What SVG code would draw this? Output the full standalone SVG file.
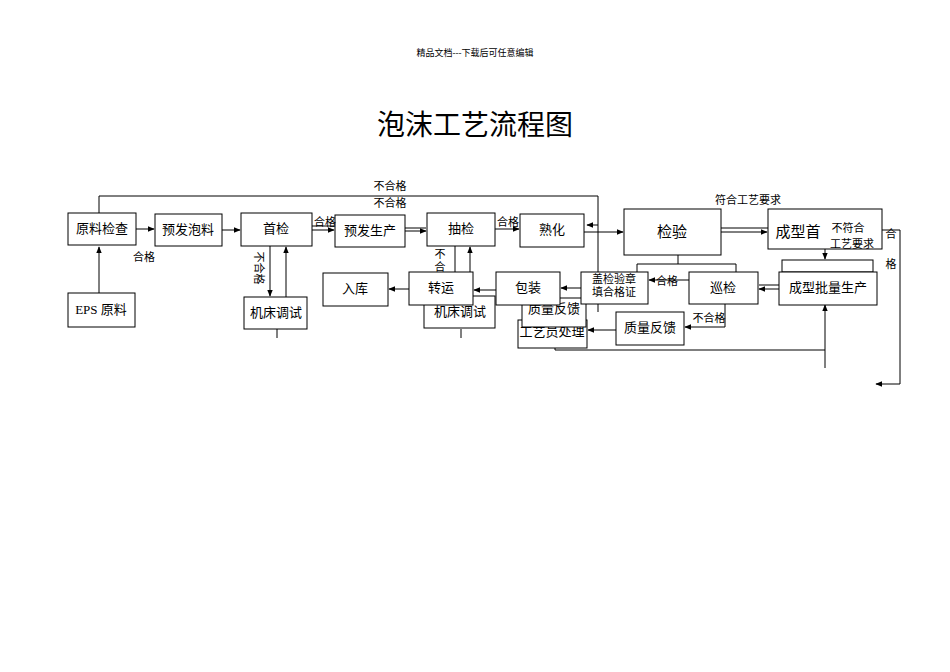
<svg xmlns="http://www.w3.org/2000/svg" width="950" height="672" viewBox="0 0 950 672">
<style>
text{font-family:"Liberation Serif","Noto Sans CJK SC",serif;fill:#000;text-anchor:middle}
.b{fill:#fff;stroke:#000;stroke-width:1}
.t{font-size:13px}
.s{font-size:11px}
.l{fill:none;stroke:#000;stroke-width:1}
</style>
<defs><marker id="a" viewBox="0 0 10 10" refX="9" refY="5" markerWidth="7" markerHeight="7" orient="auto"><path d="M0,1L10,5L0,9z" fill="#000"/></marker></defs>
<rect width="950" height="672" fill="#fff"/>
<text x="475" y="56" style="font-size:9px">精品文档---下载后可任意编辑</text>
<text x="475" y="135" style="font-size:28px">泡沫工艺流程图</text>
<g id="connectors">
<path class="l" d="M99,214V196H598V312"/>
<path class="l" d="M598,225H587" marker-end="url(#a)"/>
<path class="l" d="M99,293V247" marker-end="url(#a)"/>
<path class="l" d="M136,229H154" marker-end="url(#a)"/>
<path class="l" d="M222,230H240" marker-end="url(#a)"/>
<path class="l" d="M312,226H334M312,230H334" marker-end="url(#a)"/>
<path class="l" d="M405,228H426M405,231H426" marker-end="url(#a)"/>
<path class="l" d="M495,229H519" marker-end="url(#a)"/>
<path class="l" d="M584,232H623" marker-end="url(#a)"/>
<path class="l" d="M721,228H768M721,232H767" marker-end="url(#a)"/>
<path class="l" d="M791,232V211" marker-end="url(#a)"/>
<path class="l" d="M825,215V259" marker-end="url(#a)"/>
<path class="l" d="M882,230H900V384H876" marker-end="url(#a)"/>
<path class="l" d="M678,240V264M637,264H736V272M637,264V300"/>
<path class="l" d="M270,246V296" marker-end="url(#a)"/>
<path class="l" d="M286,297V247" marker-end="url(#a)"/>
<path class="l" d="M277,329V338M461,329V338"/>
<path class="l" d="M455,246V272"/>
<path class="l" d="M470,272V247" marker-end="url(#a)"/>
<path class="l" d="M779,285H759M779,289H759" marker-end="url(#a)"/>
<path class="l" d="M689,280H649" marker-end="url(#a)"/>
<path class="l" d="M581,288H561" marker-end="url(#a)"/>
<path class="l" d="M496,290H474" marker-end="url(#a)"/>
<path class="l" d="M409,289H389" marker-end="url(#a)"/>
<path class="l" d="M725,304V327H685" marker-end="url(#a)"/>
<path class="l" d="M616,330H588" marker-end="url(#a)"/>
<path class="l" d="M825,368V305" marker-end="url(#a)"/>
<path class="l" d="M825,350H555V335"/>
</g>
<g id="n1"><rect class="b" x="68" y="213" width="68" height="32"/><text class="t" x="102" y="233">原料检查</text></g>
<g id="n2"><rect class="b" x="155" y="214" width="67" height="32"/><text class="t" x="188" y="234">预发泡料</text></g>
<g id="n3"><rect class="b" x="241" y="213" width="71" height="33"/><text class="t" x="276" y="233">首检</text></g>
<g id="n4"><rect class="b" x="335" y="215" width="70" height="32"/><text class="t" x="370" y="235">预发生产</text></g>
<g id="n5"><rect class="b" x="427" y="213" width="68" height="33"/><text class="t" x="461" y="233">抽检</text></g>
<g id="n6"><rect class="b" x="520" y="214" width="64" height="33"/><text class="t" x="552" y="234">熟化</text></g>
<g id="n7"><rect class="b" x="624" y="209" width="97" height="46"/><text x="672" y="237" style="font-size:15px">检验</text></g>
<g id="n8"><rect class="b" x="768" y="209" width="114" height="40"/><text x="798" y="237" style="font-size:15px">成型首</text><text class="s" x="848" y="232">不符合</text><text class="s" x="852" y="248">工艺要求</text></g>
<g id="n9"><rect class="b" x="68" y="293" width="67" height="34"/><text class="t" x="101" y="314">EPS 原料</text></g>
<g id="n10"><rect class="b" x="244" y="297" width="63" height="32"/><text class="t" x="276" y="317">机床调试</text></g>
<g id="n11"><rect class="b" x="424" y="296" width="71" height="32"/><text class="t" x="460" y="316">机床调试</text></g>
<g id="n12"><rect class="b" x="323" y="273" width="65" height="33"/><text class="t" x="355" y="293">入库</text></g>
<g id="n13"><rect class="b" x="409" y="272" width="64" height="33"/><text class="t" x="441" y="292">转运</text></g>
<g id="n14"><rect class="b" x="518" y="320" width="69" height="28"/><text class="t" x="552" y="336">工艺员处理</text></g>
<g id="n15"><rect class="b" x="522" y="298" width="64" height="29"/><text class="t" x="554" y="313">质量反馈</text></g>
<g id="n16"><rect class="b" x="496" y="272" width="64" height="33"/><text class="t" x="528" y="292">包装</text></g>
<g id="n17"><rect class="b" x="581" y="272" width="67" height="32"/><text class="s" x="614" y="283">盖检验章</text><text class="s" x="614" y="296">填合格证</text></g>
<g id="n18"><rect class="b" x="689" y="272" width="69" height="32"/><text class="t" x="723" y="292">巡检</text></g>
<g id="n19"><rect class="b" x="782" y="260" width="91" height="12"/><rect class="b" x="779" y="272" width="98" height="33"/><text class="t" x="828" y="292">成型批量生产</text></g>
<g id="n20"><rect class="b" x="616" y="312" width="68" height="33"/><text class="t" x="650" y="332">质量反馈</text></g>
<g id="labels" class="s">
<text class="s" x="390" y="190">不合格</text>
<text class="s" x="390" y="207">不合格</text>
<text class="s" x="144" y="261">合格</text>
<text class="s" x="325" y="226">合格</text>
<text class="s" x="508" y="226">合格</text>
<text class="s" x="748" y="204">符合工艺要求</text>
<text class="s" x="667" y="285">合格</text>
<text class="s" x="709" y="322">不合格</text>
<text class="s" x="891" y="238">合</text>
<text class="s" x="891" y="268">格</text>
<text class="s" x="440" y="258">不</text>
<text class="s" x="440" y="271">合</text>
<text class="s" transform="translate(255,268) rotate(90)">不合格</text>
</g>
</svg>
